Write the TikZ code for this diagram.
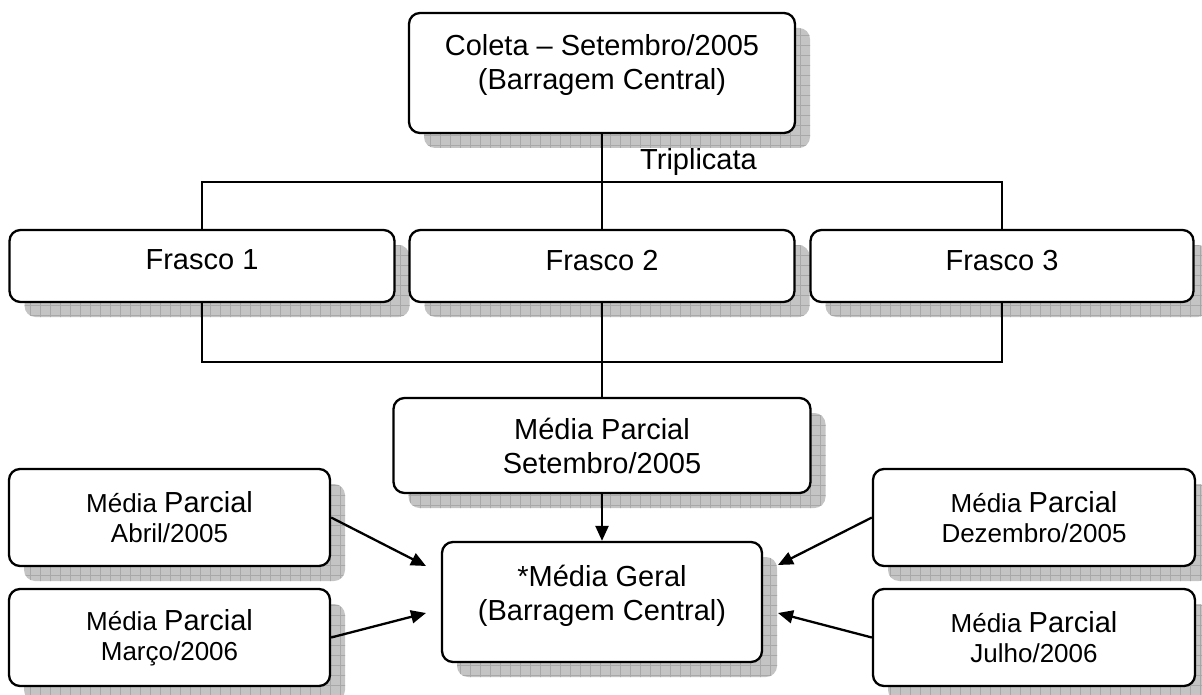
\documentclass[tikz,border=0pt]{standalone}
\usepackage{fontspec}
\setmainfont{Liberation Sans}
\usetikzlibrary{shadows,patterns.meta,arrows.meta}
\tikzdeclarepattern{
  name=shgrid,
  type=uncolored,
  bottom left={(-.5pt,-.5pt)},
  top right={(10.5pt,10.5pt)},
  tile size={(10pt,10pt)},
  code={\draw[line width=0.6pt] (0pt,0pt) -- (10pt,0pt) (0pt,0pt) -- (0pt,10pt);}
}
\definecolor{shadowgray}{gray}{0.77}
\definecolor{gridgray}{gray}{0.66}
\tikzset{
  box/.style={draw=black, line width=2.3pt, fill=white, rounded corners=11pt,
    align=center, inner sep=0pt,
    general shadow={shadow xshift=15pt, shadow yshift=-15pt, fill=shadowgray},
    general shadow={shadow xshift=15pt, shadow yshift=-15pt, pattern={shgrid}, pattern color=gridgray}},
  bigtext/.style={font=\fontsize{29}{34}\selectfont},
  smalltext/.style={font=\fontsize{26}{30}\selectfont},
  conn/.style={line width=2.3pt, line cap=rect},
  arr/.style={line width=2.3pt, -{Triangle[length=15pt,width=13pt]}}
}
\begin{document}
\begin{tikzpicture}[x=1pt,y=-1pt]
\useasboundingbox (0,0) rectangle (1202,695);

\node[box,bigtext,minimum width=386pt,minimum height=120pt,text depth=23pt] (top) at (602,73)
  {Coleta – Setembro/2005\\(Barragem Central)};

\node[box,bigtext,minimum width=385pt,minimum height=72pt,text depth=12pt] (f1) at (202,266) {Frasco 1};
\node[box,bigtext,minimum width=385pt,minimum height=72pt,text depth=12pt] (f2) at (602,266) {Frasco 2};
\node[box,bigtext,minimum width=383pt,minimum height=72pt,text depth=12pt] (f3) at (1002,266) {Frasco 3};

\node[box,bigtext,minimum width=417pt,minimum height=95pt] (mps) at (602,445.5)
  {Média Parcial\\Setembro/2005};

\node[box,bigtext,minimum width=320pt,minimum height=120pt,text depth=18pt] (mg) at (602,602)
  {*Média Geral\\(Barragem Central)};

\node[box,smalltext,minimum width=321pt,minimum height=97pt] (abr) at (169.5,517.5)
  {Média {\fontsize{29}{30}\selectfont Parcial}\\Abril/2005};
\node[box,smalltext,minimum width=321pt,minimum height=97pt] (mar) at (169.5,637.5)
  {Média {\fontsize{29}{30}\selectfont Parcial}\\Março/2006};
\node[box,smalltext,minimum width=322pt,minimum height=97pt] (dez) at (1034,517.5)
  {Média {\fontsize{29}{30}\selectfont Parcial}\\Dezembro/2005};
\node[box,smalltext,minimum width=322pt,minimum height=97pt] (jul) at (1034,637.5)
  {Média {\fontsize{29}{30}\selectfont Parcial}\\Julho/2006};

\coordinate (tj) at (602,182);
\coordinate (bj) at (602,362);
\node[bigtext,anchor=base west,inner sep=0pt] (trip) at (640,170) {Triplicata};

\draw[conn] (top.south) -- (f2.north);
\draw[conn] (f1.north) -- (f1.north |- tj) -- (f3.north |- tj) -- (f3.north);
\draw[conn] (f1.south) -- (f1.south |- bj) -- (f3.south |- bj) -- (f3.south);
\draw[conn] (f2.south) -- (mps.north);

\draw[arr] (mps.south) -- (mg.north);

\coordinate (ta) at (426,566);
\coordinate (tm) at (426,613);
\coordinate (td) at (778,565);
\coordinate (tjl) at (778,613);
\draw[arr] (abr.east) -- (ta);
\draw[arr] (mar.east) -- (tm);
\draw[arr] (dez.west) -- (td);
\draw[arr] (jul.west) -- (tjl);
\end{tikzpicture}
\end{document}
